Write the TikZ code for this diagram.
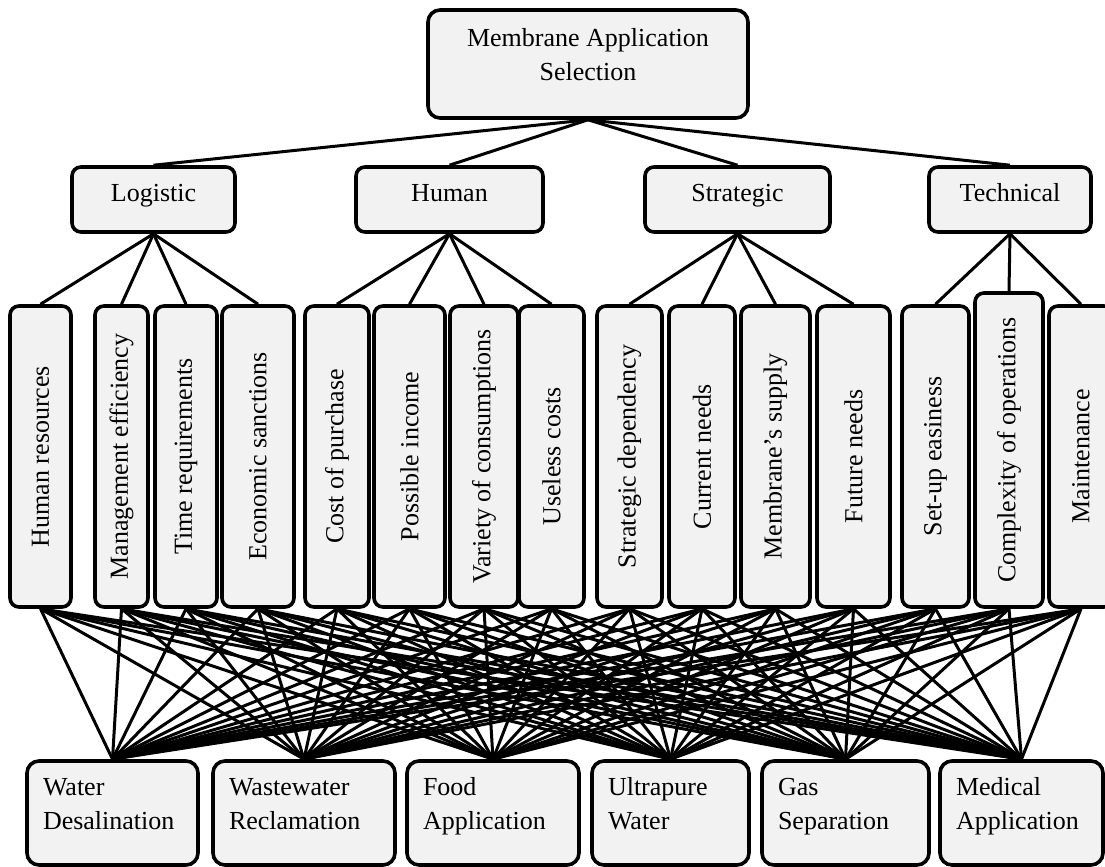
\documentclass[tikz,border=0pt]{standalone}
\usepackage{fontspec}
\setmainfont{Liberation Serif}
\usetikzlibrary{positioning}

\begin{document}
\begin{tikzpicture}[x=0.5pt,y=-0.5pt]
  \tikzstyle{box} = [rectangle, draw=black, fill=black!5, line width=1.8pt, rounded corners=4.5pt, inner sep=0pt, align=center, font=\fontsize{13}{17}\selectfont]
  \tikzstyle{goalbox} = [box, minimum width=160pt, minimum height=54pt, rounded corners=6pt, execute at begin node=\strut, execute at end node={\rule[-10pt]{0pt}{0pt}}]
  \tikzstyle{groupbox} = [box, minimum height=32.5pt, execute at begin node=\strut, execute at end node={\rule[-10pt]{0pt}{0pt}}]
  \tikzstyle{alt} = [box, minimum height=52pt, align=left, rounded corners=6pt, execute at begin node=\strut, execute at end node={\rule[-12pt]{0pt}{0pt}}]
  \tikzstyle{link} = [line width=1.5pt]

  \useasboundingbox (0,0) rectangle (1105,867);

  \node (goal) [goalbox] at (588,64) {Membrane Application\\Selection};

  \foreach \name/\x/\w/\txt in {logistic/153.5/163/Logistic, human/449.5/187/Human,
                                strategic/737.5/185/Strategic, technical/1010/162/Technical} {
    \pgfmathsetmacro\bw{\w*0.5}
    \node (\name) [groupbox, minimum width=\bw pt] at (\x,199.5) {\txt};
  }

  \foreach \i/\x/\w/\y/\h/\txt in {1/40.5/61/456.5/301/Human resources,
                                   2/121.5/53/456.5/301/Management efficiency,
                                   3/186/62/456.5/301/Time requirements,
                                   4/258/72/456.5/301/Economic sanctions,
                                   5/337/64/456.5/301/Cost of purchase,
                                   6/409.5/71/456.5/301/Possible income,
                                   7/484/68/456.5/301/Variety of consumptions,
                                   8/551.5/65/456.5/301/Useless costs,
                                   9/629.5/65/456.5/301/Strategic dependency,
                                   10/702/66/456.5/301/Current needs,
                                   11/775.5/69/456.5/301/Membrane's supply,
                                   12/853.5/73/456.5/301/Future needs,
                                   13/935.5/67/456.5/301/Set-up easiness,
                                   14/1009/68/450/314/Complexity of operations,
                                   15/1081/64/456.5/301/Maintenance} {
    \pgfmathsetmacro\bw{\w*0.5}
    \pgfmathsetmacro\bh{\h*0.5}
    \node (crit\i) [box, minimum width=\bw pt, minimum height=\bh pt] at (\x,\y) {\rotatebox{90}{\txt}};
  }

  \foreach \i/\x/\w/\txt in {1/112.5/171/{Water\\Desalination}, 2/304/182/{Wastewater\\Reclamation},
                             3/493/172/{Food\\Application}, 4/670.5/157/{Ultrapure\\Water},
                             5/845.5/167/{Gas\\Separation}, 6/1021.5/163/{Medical\\Application}} {
    \pgfmathsetmacro\bw{\w*0.5}
    \pgfmathsetmacro\tw{(\w-32)*0.5}
    \node (alt\i) [alt, minimum width=\bw pt, text width=\tw pt] at (\x,813) {\txt};
  }

  \foreach \g in {logistic,human,strategic,technical}
    \draw [link] (goal.south) -- (\g.north);
  \foreach \c in {1,...,4}
    \draw [link] (logistic.south) -- (crit\c.north);
  \foreach \c in {5,...,8}
    \draw [link] (human.south) -- (crit\c.north);
  \foreach \c in {9,...,12}
    \draw [link] (strategic.south) -- (crit\c.north);
  \foreach \c in {13,...,15}
    \draw [link] (technical.south) -- (crit\c.north);
  \foreach \c in {1,...,15}
    \foreach \a in {1,...,6}
      \draw [link] (crit\c.south) -- (alt\a.north);
\end{tikzpicture}
\end{document}
